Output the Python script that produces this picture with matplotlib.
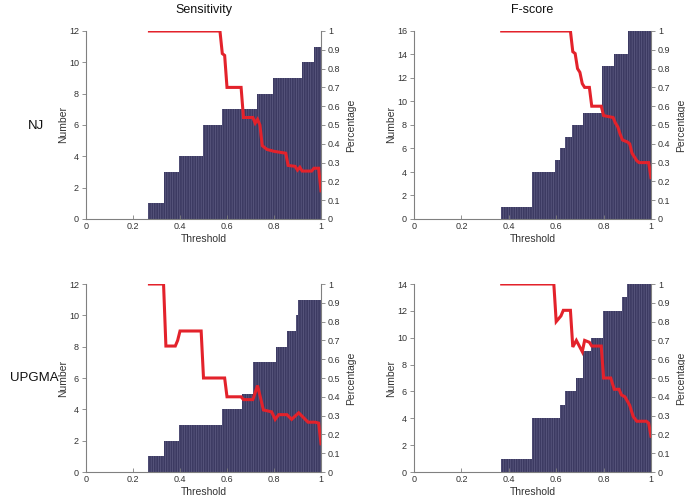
import numpy as np
import matplotlib
matplotlib.use("Agg")
import matplotlib.pyplot as plt

plt.rcParams["font.family"] = ["Liberation Sans", "DejaVu Sans"]
plt.rcParams["hatch.linewidth"] = 0.5

# ── Data ──────────────────────────────────────────────────────────────────────
# bar steps: left edges (last value = right end) and counts per step
nj_sens_edges = [0.265, 0.333, 0.396, 0.497, 0.577, 0.726, 0.797, 0.919, 0.970, 1.0]
nj_sens_counts = [1, 3, 4, 6, 7, 8, 9, 10, 11]
nj_sens_x = [0.27, 0.57, 0.58, 0.59, 0.60, 0.66, 0.67, 0.71, 0.72, 0.73, 0.74, 0.75,
             0.77, 0.80, 0.85, 0.86, 0.89, 0.90, 0.91, 0.92, 0.96, 0.97, 0.99, 1.00]
nj_sens_pct = [1.00, 1.00, 0.88, 0.87, 0.70, 0.70, 0.54, 0.54, 0.51, 0.53, 0.50, 0.39,
               0.37, 0.36, 0.35, 0.285, 0.28, 0.26, 0.275, 0.255, 0.255, 0.27, 0.27, 0.15]

nj_f_edges = [0.366, 0.497, 0.595, 0.616, 0.637, 0.665, 0.714, 0.795, 0.844, 0.903, 1.0]
nj_f_counts = [1, 4, 5, 6, 7, 8, 9, 13, 14, 16]
nj_f_x = [0.37, 0.66, 0.67, 0.68, 0.69, 0.70, 0.71, 0.72, 0.74, 0.75, 0.79, 0.80, 0.84,
          0.85, 0.86, 0.87, 0.88, 0.90, 0.91, 0.92, 0.93, 0.94, 0.95, 0.99, 1.00]
nj_f_pct = [1.00, 1.00, 0.89, 0.88, 0.80, 0.78, 0.72, 0.70, 0.70, 0.60, 0.60, 0.55, 0.54,
            0.51, 0.49, 0.45, 0.42, 0.41, 0.40, 0.35, 0.33, 0.31, 0.30, 0.30, 0.22]

up_sens_edges = [0.265, 0.333, 0.396, 0.577, 0.665, 0.712, 0.807, 0.857, 0.894, 0.90, 1.0]
up_sens_counts = [1, 2, 3, 4, 5, 7, 8, 9, 10, 11]
up_sens_x = [0.27, 0.33, 0.34, 0.38, 0.39, 0.40, 0.49, 0.50, 0.59, 0.60, 0.66, 0.67, 0.71,
             0.73, 0.755, 0.79, 0.805, 0.82, 0.855, 0.875, 0.905, 0.925, 0.945, 0.975, 0.99, 1.00]
up_sens_pct = [1.00, 1.00, 0.67, 0.67, 0.70, 0.75, 0.75, 0.50, 0.50, 0.40, 0.40, 0.385, 0.385,
               0.46, 0.33, 0.32, 0.28, 0.305, 0.305, 0.28, 0.315, 0.29, 0.265, 0.265, 0.26, 0.15]

up_f_edges = [0.366, 0.497, 0.616, 0.637, 0.684, 0.714, 0.745, 0.796, 0.876, 0.897, 1.0]
up_f_counts = [1, 4, 5, 6, 7, 9, 10, 12, 13, 14]
up_f_x = [0.37, 0.59, 0.60, 0.62, 0.63, 0.66, 0.67, 0.685, 0.71, 0.72, 0.74, 0.75, 0.79,
          0.80, 0.83, 0.845, 0.865, 0.875, 0.89, 0.91, 0.925, 0.94, 0.98, 0.99, 1.00]
up_f_pct = [1.00, 1.00, 0.80, 0.83, 0.86, 0.86, 0.665, 0.70, 0.64, 0.70, 0.69, 0.67, 0.67,
            0.50, 0.50, 0.44, 0.44, 0.41, 0.40, 0.355, 0.295, 0.27, 0.27, 0.26, 0.19]

COL_TITLES = ["Sensitivity", "F-score"]
ROW_TITLES = ["NJ", "UPGMA"]
X_TICKS = [0, 0.2, 0.4, 0.6, 0.8, 1]
X_TICKLABELS = ["0", "0.2", "0.4", "0.6", "0.8", "1"]
PCT_TICKS = [0, 0.1, 0.2, 0.3, 0.4, 0.5, 0.6, 0.7, 0.8, 0.9, 1]
PCT_TICKLABELS = ["0", "0.1", "0.2", "0.3", "0.4", "0.5", "0.6", "0.7", "0.8", "0.9", "1"]

BAR = "#3c3a62"
STRIPE = "#5f5d84"
RED = "#e3222b"
AXC = "#808080"
TXT = "#333333"

W, H = 685, 498
fig = plt.figure(figsize=(W / 100, H / 100), dpi=100, facecolor="white")


def px_rect(left, top, right, bottom):
    return [left / W, 1 - bottom / H, (right - left) / W, (bottom - top) / H]


def panel(rect, edges, counts, ymax, px, pct):
    ax = fig.add_axes(rect)
    widths = np.diff(edges)
    ax.bar(edges[:-1], counts, width=widths, align="edge", color=BAR,
           edgecolor=STRIPE, linewidth=0, hatch="|" * 7)
    ax.set_xlim(0, 1)
    ax.set_ylim(0, ymax)
    ax.set_xticks(X_TICKS)
    ax.set_xticklabels(X_TICKLABELS)
    ax.set_yticks(range(0, ymax + 1, 2))
    ax.set_xlabel("Threshold", fontsize=7.5, color=TXT, labelpad=2)
    ax.set_ylabel("Number", fontsize=7.5, color=TXT, labelpad=0.5)

    ax2 = ax.twinx()
    ax2.plot(px, pct, color=RED, linewidth=2.2, solid_joinstyle="miter")
    ax2.set_ylim(0, 1)
    ax2.set_yticks(PCT_TICKS)
    ax2.set_yticklabels(PCT_TICKLABELS)
    ax2.set_ylabel("Percentage", fontsize=7.5, color=TXT, labelpad=4)

    for a in (ax, ax2):
        a.spines["top"].set_visible(False)
        for s in a.spines.values():
            s.set_color(AXC)
            s.set_linewidth(0.8)
        a.tick_params(labelsize=6.5, colors=AXC, labelcolor=TXT, length=3, width=0.6)
    ax.spines["right"].set_visible(False)
    ax2.spines["left"].set_visible(False)
    ax2.spines["bottom"].set_visible(False)
    ax.tick_params(axis="x", direction="in", pad=2)
    ax.tick_params(axis="y", direction="out", pad=2)
    ax2.tick_params(axis="y", direction="out", pad=2)
    return ax


panel(px_rect(86, 31, 321, 219), nj_sens_edges, nj_sens_counts, 12, nj_sens_x, nj_sens_pct)
panel(px_rect(414, 31, 651, 219), nj_f_edges, nj_f_counts, 16, nj_f_x, nj_f_pct)
panel(px_rect(86, 284, 321, 472), up_sens_edges, up_sens_counts, 12, up_sens_x, up_sens_pct)
panel(px_rect(414, 284, 651, 472), up_f_edges, up_f_counts, 14, up_f_x, up_f_pct)

fig.text(203.5 / W, 1 - 10 / H, COL_TITLES[0], ha="center", va="center", fontsize=9, color="#111111")
fig.text(532.5 / W, 1 - 10 / H, COL_TITLES[1], ha="center", va="center", fontsize=9, color="#111111")
fig.text(36 / W, 1 - 126 / H, ROW_TITLES[0], ha="center", va="center", fontsize=9.5, color="#111111")
fig.text(34 / W, 1 - 378 / H, ROW_TITLES[1], ha="center", va="center", fontsize=9.5, color="#111111")

fig.savefig("out.png", dpi=100, facecolor="white")
